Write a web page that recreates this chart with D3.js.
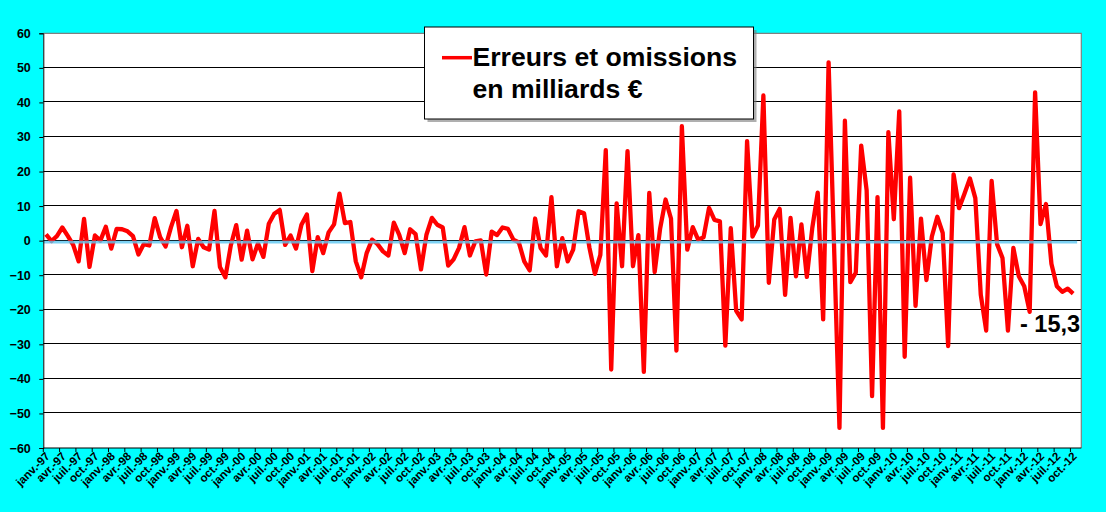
<!DOCTYPE html>
<html lang="fr">
<head>
  <meta charset="UTF-8">
  <title>Erreurs et omissions</title>
  <script src="https://d3js.org/d3.v7.min.js"></script>
  <style>
    body { margin: 0; background: #00ffff; }
    svg { display: block; font-family: "Liberation Sans", Arial, sans-serif; }
  </style>
</head>
<body>
  <div id="chart"></div>
  <script>
    // monthly values, billions of euros
    const y1997 = [1.8, -0.1, 1.3, 3.8, 1.4, -1.2, -6.0, 6.3, -7.6, 1.5, 0.0, 4.0];
    const y1998 = [-2.3, 3.4, 3.3, 2.7, 1.3, -4.0, -1.0, -1.4, 6.5, 1.0, -1.7, 3.9];
    const y1999 = [8.6, -1.9, 4.3, -7.4, 0.5, -1.9, -2.6, 8.6, -7.6, -10.6, -1.4, 4.5];
    const y2000 = [-5.5, 2.9, -5.4, -0.8, -4.7, 4.9, 7.8, 8.9, -1.2, 1.5, -2.3, 4.6];
    const y2001 = [7.6, -8.8, 1.0, -3.6, 2.4, 4.7, 13.6, 5.1, 5.4, -6.0, -10.6, -3.6];
    const y2002 = [0.3, -1.0, -3.1, -4.3, 5.2, 1.7, -3.6, 3.3, 1.9, -8.3, 1.7, 6.6];
    const y2003 = [4.6, 3.8, -7.2, -5.4, -2.1, 3.9, -4.3, -0.2, 0.1, -9.8, 2.6, 1.6];
    const y2004 = [3.8, 3.4, 0.3, -0.5, -6.0, -8.6, 6.4, -2.1, -4.3, 12.6, -7.4, 0.7];
    const y2005 = [-6.0, -2.6, 8.5, 7.9, -2.1, -9.6, -4.1, 26.2, -37.3, 10.8, -7.4, 25.9];
    const y2006 = [-7.4, 1.6, -38.0, 13.8, -9.1, 3.5, 11.9, 6.4, -31.8, 33.1, -2.6, 3.9];
    const y2007 = [0.3, 1.0, 9.5, 6.0, 5.6, -30.4, 3.6, -20.3, -22.8, 28.8, 1.2, 4.4];
    const y2008 = [42.0, -12.2, 6.1, 9.2, -15.7, 6.6, -10.3, 4.7, -10.5, 3.7, 13.9, -22.8];
    const y2009 = [51.6, -1.3, -54.2, 34.7, -12.0, -9.3, 27.5, 14.6, -45.0, 12.6, -54.2, 31.4];
    const y2010 = [6.2, 37.4, -33.6, 18.2, -18.9, 6.4, -11.4, 1.2, 6.9, 2.2, -30.5, 19.2];
    const y2011 = [9.4, 13.6, 18.0, 12.3, -15.6, -26.0, 17.3, -1.0, -5.0, -26.0, -2.1, -10.3];
    const y2012 = [-13.2, -20.6, 42.9, 4.8, 10.6, -6.7, -13.2, -14.8, -13.9, -15.3];

    const years = ["97", "98", "99", "00", "01", "02", "03", "04", "05", "06", "07", "08", "09", "10", "11", "12"];
    const monthNames = ["janv.", "févr.", "mars", "avr.", "mai", "juin", "juil.", "août", "sept.", "oct.", "nov.", "déc."];
    const yTicks = [60, 50, 40, 30, 20, 10, 0, -10, -20, -30, -40, -50, -60];
    const legendLines = ["Erreurs et omissions", "en milliards €"];
    const lastLabel = "- 15,3";

    const values = [].concat(y1997, y1998, y1999, y2000, y2001, y2002, y2003, y2004,
      y2005, y2006, y2007, y2008, y2009, y2010, y2011, y2012);

    // one category per month, axis runs one month past the last value
    const categories = [];
    years.forEach(yy => monthNames.forEach(m => categories.push(m + "-" + yy)));
    const axisCats = categories.slice(0, values.length + 1);
    const data = values.map((v, i) => ({ cat: categories[i], value: v }));

    const width = 1106, height = 512;
    const plot = { left: 43.3, right: 1081.3, top: 33.3, bottom: 448 };

    const svg = d3.select("#chart").append("svg")
      .attr("width", width)
      .attr("height", height);

    const x = d3.scaleBand()
      .domain(axisCats)
      .range([plot.left, plot.right])
      .paddingInner(0)
      .paddingOuter(0);

    const y = d3.scaleLinear()
      .domain([-60, 60])
      .range([plot.bottom, plot.top]);

    const cx = d => x(d) + x.bandwidth() / 2;

    svg.append("rect")
      .attr("x", plot.left)
      .attr("y", plot.top)
      .attr("width", plot.right - plot.left)
      .attr("height", plot.bottom - plot.top)
      .attr("fill", "white");

    // horizontal grid
    svg.append("g")
      .selectAll("line")
      .data(yTicks.filter(t => t > -60 && t < 60))
      .enter()
      .append("line")
      .attr("x1", plot.left)
      .attr("x2", plot.right)
      .attr("y1", d => Math.round(y(d)) - 0.5)
      .attr("y2", d => Math.round(y(d)) - 0.5)
      .attr("stroke", "black")
      .attr("stroke-width", 1);

    // plot border top/right
    svg.append("path")
      .attr("d", `M${plot.left},${plot.top}H${plot.right}V${plot.bottom}`)
      .attr("fill", "none")
      .attr("stroke", "#808080")
      .attr("stroke-width", 1.2);

    const line = d3.line()
      .x(d => cx(d.cat))
      .y(d => y(d.value));

    svg.append("path")
      .datum(data)
      .attr("d", line)
      .attr("fill", "none")
      .attr("stroke", "#ff0000")
      .attr("stroke-width", 4.3)
      .attr("stroke-linejoin", "round")
      .attr("stroke-linecap", "butt");

    // light blue zero line, over the series
    svg.append("line")
      .attr("x1", plot.left)
      .attr("x2", cx(data[data.length - 1].cat) + 4)
      .attr("y1", y(0) + 1.4)
      .attr("y2", y(0) + 1.4)
      .attr("stroke", "#5cc6f0")
      .attr("stroke-opacity", 0.8)
      .attr("stroke-width", 2.8);

    // y axis
    const yAxis = d3.axisLeft(y)
      .tickValues(yTicks)
      .tickSize(4)
      .tickFormat(d3.format("d"));

    const gy = svg.append("g")
      .attr("transform", `translate(${plot.left},0)`)
      .call(yAxis);
    gy.select(".domain").attr("stroke", "black");
    gy.selectAll(".tick line").attr("stroke", "black");
    gy.selectAll(".tick text")
      .attr("x", -12.5)
      .attr("font-family", "'Liberation Sans', Arial, sans-serif")
      .attr("font-size", "12.5px")
      .attr("font-weight", "bold")
      .attr("fill", "black");

    // x axis, a tick and a label every 3 months
    const tickCats = categories.slice(0, values.length).filter((c, i) => i % 3 === 0);

    svg.append("line")
      .attr("x1", plot.left)
      .attr("x2", plot.right)
      .attr("y1", plot.bottom)
      .attr("y2", plot.bottom)
      .attr("stroke", "black")
      .attr("stroke-width", 1.2);

    svg.append("g")
      .selectAll("line")
      .data(tickCats)
      .enter()
      .append("line")
      .attr("x1", d => x(d))
      .attr("x2", d => x(d))
      .attr("y1", plot.bottom)
      .attr("y2", plot.bottom + 4)
      .attr("stroke", "black");

    svg.append("g")
      .selectAll("text")
      .data(tickCats)
      .enter()
      .append("text")
      .attr("transform", d => `translate(${cx(d) + 4.5},${plot.bottom + 9}) rotate(-45)`)
      .attr("text-anchor", "end")
      .attr("font-size", "11.5px")
      .attr("font-weight", "bold")
      .attr("fill", "black")
      .text(d => d);

    // legend
    const lg = svg.append("g");
    lg.append("rect")
      .attr("x", 427.5)
      .attr("y", 30)
      .attr("width", 329)
      .attr("height", 92)
      .attr("fill", "#7a7a7a")
      .attr("opacity", 0.6);
    lg.append("rect")
      .attr("x", 424.5)
      .attr("y", 27)
      .attr("width", 329)
      .attr("height", 92)
      .attr("fill", "white")
      .attr("stroke", "black")
      .attr("stroke-width", 1);
    lg.append("line")
      .attr("x1", 442)
      .attr("x2", 472)
      .attr("y1", 57.7)
      .attr("y2", 57.7)
      .attr("stroke", "#ff0000")
      .attr("stroke-width", 3.5);
    lg.selectAll("text")
      .data(legendLines)
      .enter()
      .append("text")
      .attr("x", 472.5)
      .attr("y", (d, i) => 66 + i * 31.7)
      .attr("font-size", "26.6px")
      .attr("font-weight", "bold")
      .attr("fill", "black")
      .text(d => d);

    // last value label
    svg.append("text")
      .attr("x", 1020)
      .attr("y", 332)
      .attr("font-size", "23.5px")
      .attr("font-weight", "bold")
      .attr("fill", "black")
      .text(lastLabel);
  </script>
</body>
</html>
